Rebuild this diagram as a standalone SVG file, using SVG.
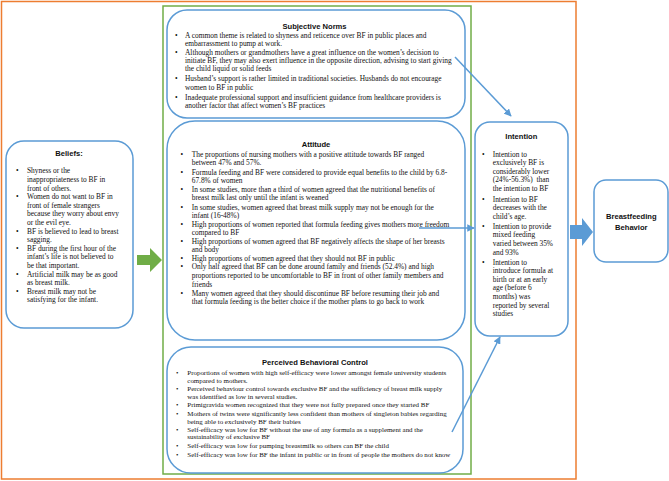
<svg xmlns="http://www.w3.org/2000/svg" width="669" height="481" viewBox="0 0 669 481">
<style>
.box{fill:#fff;stroke:#5B9BD5;stroke-width:1.5}
.t{font-family:"Liberation Serif","Times New Roman",serif;font-size:7.4px;fill:#111}
.s{font-size:6.95px}
.h{font-family:"Liberation Sans",Arial,sans-serif;font-size:7.6px;font-weight:bold;fill:#111;text-anchor:middle}
.ln{stroke:#5B9BD5;stroke-width:1.5;fill:none}
</style>
<defs>
<marker id="ah" viewBox="0 0 10 10" refX="9" refY="5" markerWidth="5" markerHeight="5" orient="auto" markerUnits="strokeWidth">
<path d="M0,0 L10,5 L0,10 z" fill="#5B9BD5"/>
</marker>
</defs>
<rect width="669" height="481" fill="#fff"/>
<rect id="frame" x="1.5" y="1.5" width="574.5" height="477.5" fill="none" stroke="#ED7D31" stroke-width="1.5"/>
<rect id="tpb" x="163" y="6" width="308" height="468" fill="none" stroke="#70AD47" stroke-width="1.5"/>

<g id="beliefs">
<rect class="box" x="6" y="141" width="127" height="187" rx="18"/>
<text class="h" x="69" y="156">Beliefs:</text>
<g class="t">
<text x="16" y="173.3">•</text><text x="27" y="173.3">Shyness or the</text>
<text x="27" y="181.9">inappropriateness to BF in</text>
<text x="27" y="190.5">front of others.</text>
<text x="16" y="199.1">•</text><text x="27" y="199.1">Women do not want to BF in</text>
<text x="27" y="207.7">front of female strangers</text>
<text x="27" y="216.3">because they worry about envy</text>
<text x="27" y="224.9">or the evil eye.</text>
<text x="16" y="233.5">•</text><text x="27" y="233.5">BF is believed to lead to breast</text>
<text x="27" y="242.1">sagging.</text>
<text x="16" y="250.7">•</text><text x="27" y="250.7">BF during the first hour of the</text>
<text x="27" y="259.3">infant’s life is not believed to</text>
<text x="27" y="267.9">be that important.</text>
<text x="16" y="276.5">•</text><text x="27" y="276.5">Artificial milk may be as good</text>
<text x="27" y="285.1">as breast milk.</text>
<text x="16" y="293.7">•</text><text x="27" y="293.7">Breast milk may not be</text>
<text x="27" y="302.3">satisfying for the infant.</text>
</g>
</g>

<g id="subjective-norms">
<rect class="box" x="167" y="10" width="298" height="108" rx="20"/>
<text class="h" x="314.5" y="28.5">Subjective Norms</text>
<g class="t">
<text x="175" y="38.3">•</text><text x="185" y="38.3">A common theme is related to shyness and reticence over BF in public places and</text>
<text x="185" y="46.3">embarrassment to pump at work.</text>
<text x="175" y="54.6">•</text><text x="185" y="54.6">Although mothers or grandmothers have a great influence on the women’s decision to</text>
<text x="185" y="63">initiate BF, they may also exert influence in the opposite direction, advising to start giving</text>
<text x="185" y="71.3">the child liquid or solid feeds</text>
<text x="175" y="81.3">•</text><text x="185" y="81.3">Husband’s support is rather limited in traditional societies. Husbands do not encourage</text>
<text x="185" y="89.6">women to BF in public</text>
<text x="175" y="100">•</text><text x="185" y="100">Inadequate professional support and insufficient guidance from healthcare providers is</text>
<text x="185" y="108.3">another factor that affect women’s BF practices</text>
</g>
</g>

<g id="attitude">
<rect class="box" x="167" y="121" width="298" height="219" rx="28"/>
<text class="h" x="316" y="147">Attitude</text>
<g class="t">
<text x="180.5" y="157">•</text><text x="191.7" y="157">The proportions of nursing mothers with a positive attitude towards BF ranged</text>
<text x="191.7" y="165">between 47% and 57%.</text>
<text x="180.5" y="174.6">•</text><text x="191.7" y="174.6">Formula feeding and BF were considered to provide equal benefits to the child by 6.8-</text>
<text x="191.7" y="183">67.8% of women</text>
<text x="180.5" y="192.3">•</text><text x="191.7" y="192.3">In some studies, more than a third of women agreed that the nutritional benefits of</text>
<text x="191.7" y="200.3">breast milk last only until the infant is weaned</text>
<text x="180.5" y="210">•</text><text x="191.7" y="210">In some studies, women agreed that breast milk supply may not be enough for the</text>
<text x="191.7" y="218">infant (16-48%)</text>
<text x="180.5" y="226.6">•</text><text x="191.7" y="226.6">High proportions of women reported that formula feeding gives mothers more freedom</text>
<text x="191.7" y="234.6">compared to BF</text>
<text x="180.5" y="244.3">•</text><text x="191.7" y="244.3">High proportions of women agreed that BF negatively affects the shape of her breasts</text>
<text x="191.7" y="252.3">and body</text>
<text x="180.5" y="261.3">•</text><text x="191.7" y="261.3">High proportions of women agreed that they should not BF in public</text>
<text x="180.5" y="269">•</text><text x="191.7" y="269"> Only half agreed that BF can be done around family and friends (52.4%) and high</text>
<text x="191.7" y="278.3">proportions reported to be uncomfortable to BF in front of other family members and</text>
<text x="191.7" y="286.6">friends</text>
<text x="180.5" y="295.6">•</text><text x="191.7" y="295.6">Many women agreed that they should discontinue BF before resuming their job and</text>
<text x="191.7" y="304.3">that formula feeding is the better choice if the mother plans to go back to work</text>
</g>
</g>

<g id="perceived-behavioral-control">
<rect class="box" x="167" y="347" width="296" height="126" rx="24"/>
<text class="h" x="315" y="364.5">Perceived Behavioral Control</text>
<g class="t s">
<text x="176" y="374.6">•</text><text x="187.3" y="374.6">Proportions of women with high self-efficacy were lower amongst female university students</text>
<text x="187.3" y="382.6">compared to mothers.</text>
<text x="176" y="391">•</text><text x="187.3" y="391">Perceived behaviour control towards exclusive BF and the sufficiency of breast milk supply</text>
<text x="187.3" y="398.6">was identified as low in several studies.</text>
<text x="176" y="407">•</text><text x="187.3" y="407">Primigravida women recognized that they were not fully prepared once they started BF</text>
<text x="176" y="415.6">•</text><text x="187.3" y="415.6">Mothers of twins were significantly less confident than mothers of singleton babies regarding</text>
<text x="187.3" y="423.6">being able to exclusively BF their babies</text>
<text x="176" y="431.6">•</text><text x="187.3" y="431.6">Self-efficacy was low for BF without the use of any formula as a supplement and the</text>
<text x="187.3" y="439.3">sustainability of exclusive BF</text>
<text x="176" y="447.8">•</text><text x="187.3" y="447.8">Self-efficacy was low for pumping breastmilk so others can BF the child</text>
<text x="176" y="456.6">•</text><text x="187.3" y="456.6">Self-efficacy was low for BF the infant in public or in front of people the mothers do not know</text>
</g>
</g>

<g id="intention">
<rect class="box" x="475" y="122" width="93" height="214" rx="15"/>
<text class="h" x="521.3" y="139">Intention</text>
<g class="t">
<text x="482" y="156.6">•</text><text x="492.7" y="156.6">Intention to</text>
<text x="492.7" y="165.2">exclusively BF is</text>
<text x="492.7" y="173.8">considerably lower</text>
<text x="492.7" y="182.4" xml:space="preserve">(24%-56.3%)  than</text>
<text x="492.7" y="191">the intention to BF</text>
<text x="482" y="201.6">•</text><text x="492.7" y="201.6">Intention to BF</text>
<text x="492.7" y="210.2">decreases with the</text>
<text x="492.7" y="218.8">child’s age.</text>
<text x="482" y="228.8">•</text><text x="492.7" y="228.8">Intention to provide</text>
<text x="492.7" y="237.4">mixed feeding</text>
<text x="492.7" y="246">varied between 35%</text>
<text x="492.7" y="254.6">and 93%</text>
<text x="482" y="264.6">•</text><text x="492.7" y="264.6">Intention to</text>
<text x="492.7" y="273.2">introduce formula at</text>
<text x="492.7" y="281.8">birth or at an early</text>
<text x="492.7" y="290.4">age (before 6</text>
<text x="492.7" y="299">months) was</text>
<text x="492.7" y="307.6">reported by several</text>
<text x="492.7" y="316.2">studies</text>
</g>
</g>

<g id="breastfeeding-behavior">
<rect class="box" x="594" y="180" width="74" height="82" rx="12"/>
<text class="h" x="631.3" y="218.8">Breastfeeding</text>
<text class="h" x="631.3" y="229.5">Behavior</text>
</g>

<g id="connectors">
<path d="M137,255 H150 V248 L162,260 L150,272 V265 H137 z" fill="#70AD47"/>
<path d="M570,225 H582 V218 L593,232 L582,246 V239 H570 z" fill="#5B9BD5"/>
<line class="ln" x1="455" y1="57" x2="511" y2="116" marker-end="url(#ah)"/>
<line class="ln" x1="419" y1="228" x2="474" y2="228" marker-end="url(#ah)"/>
<line class="ln" x1="452" y1="432" x2="500" y2="337" marker-end="url(#ah)"/>
</g>
</svg>
